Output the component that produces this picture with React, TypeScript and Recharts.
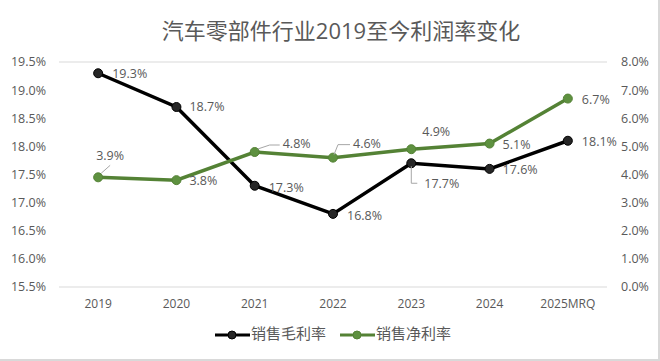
import { LineChart, Line, XAxis, YAxis, CartesianGrid } from 'recharts';

const years = ['2019', '2020', '2021', '2022', '2023', '2024', '2025MRQ'];
const grossMargin = [19.3, 18.7, 17.3, 16.8, 17.7, 17.6, 18.1];
const netMargin = [3.9, 3.8, 4.8, 4.6, 4.9, 5.1, 6.7];
const leftTicks = [15.5, 16, 16.5, 17, 17.5, 18, 18.5, 19, 19.5];
const rightTicks = [0, 1, 2, 3, 4, 5, 6, 7, 8];

const data = years.map((y, i) => ({ year: y, gross: grossMargin[i], net: netMargin[i] }));

const GRAY = '#595959';
const BLACK = '#000000';
const GREEN = '#548235';
const FONT = '"Open Sans", "Noto Sans CJK SC", sans-serif';

// label placement per point: dx, dy of text start, optional leader polyline
type LabelPos = { dx: number; dy: number; leader?: number[][] };

const grossLabels: LabelPos[] = [
  { dx: 14, dy: 1 },
  { dx: 13, dy: 1 },
  { dx: 14, dy: 3 },
  { dx: 14, dy: 3 },
  { dx: 13, dy: 21, leader: [[0, 3], [0, 20], [6, 20]] },
  { dx: 13, dy: 2 },
  { dx: 14, dy: 2 },
];

const netLabels: LabelPos[] = [
  { dx: -2, dy: -21, leader: [[3, -4], [12, -12]] },
  { dx: 13, dy: 2 },
  { dx: 28, dy: -7, leader: [[3, -3], [15, -7], [25, -7]] },
  { dx: 20, dy: -13, leader: [[1, -3], [5, -13], [17, -13]] },
  { dx: 11, dy: -17 },
  { dx: 13, dy: 2 },
  { dx: 14, dy: 2 },
];

function makeLabel(pos: LabelPos[]) {
  return (props: any) => {
    const { x, y, value, index } = props;
    const p = pos[index];
    return (
      <g key={`lbl-${index}`}>
        {p.leader && (
          <polyline
            points={p.leader.map(([a, b]) => `${x + a},${y + b}`).join(' ')}
            fill="none"
            stroke="#a6a6a6"
            strokeWidth={1}
          />
        )}
        <text
          x={x + p.dx}
          y={y + p.dy}
          dominantBaseline="middle"
          fill={GRAY}
          fontSize={12.5}
          fontFamily={FONT}
        >
          {value.toFixed(1)}%
        </text>
      </g>
    );
  };
}

const legendItems = [
  { name: '销售毛利率', color: BLACK, dot: '#262626' },
  { name: '销售净利率', color: GREEN, dot: '#5e9140' },
];

function ChartLegend() {
  return (
    <svg width={660} height={24} style={{ position: 'absolute', left: 0, top: 323 }}>
      {legendItems.map((it, i) => {
        const x0 = 215 + i * 125;
        return (
          <g key={it.name}>
            <line x1={x0} x2={x0 + 35} y1={12} y2={12} stroke={it.color} strokeWidth={3} />
            <circle cx={x0 + 17} cy={12} r={4} fill={it.dot} stroke={it.color} />
            <text x={x0 + 36} y={12} dominantBaseline="middle" fill={GRAY} fontSize={15} fontFamily={FONT}>
              {it.name}
            </text>
          </g>
        );
      })}
    </svg>
  );
}

export default function App() {
  document.body.style.margin = '0';
  return (
    <div
      style={{
        width: 660,
        height: 361,
        position: 'relative',
        background: '#fff',
        boxSizing: 'border-box',
        borderRight: '2px solid #d9d9d9',
        borderBottom: '2px solid #d9d9d9',
        fontFamily: FONT,
      }}
    >
      <div
        style={{
          position: 'absolute',
          top: 14,
          left: 0,
          width: 682,
          textAlign: 'center',
          fontSize: 22,
          lineHeight: '32px',
          color: GRAY,
          fontFamily: FONT,
        }}
      >
        汽车零部件行业2019至今利润率变化
      </div>
      <div style={{ position: 'absolute', left: 0, top: 0 }}>
        <LineChart
          width={660}
          height={361}
          data={data}
          margin={{ top: 62, right: 0, bottom: 0, left: 0 }}
        >
          <CartesianGrid vertical={false} stroke="#d9d9d9" />
          <XAxis
            dataKey="year"
            scale="band"
            axisLine={false}
            tickLine={false}
            tickSize={0}
            tickMargin={12}
            tick={{ fill: GRAY, fontSize: 12, fontFamily: FONT }}
            interval={0}
            height={74}
          />
          <YAxis
            yAxisId="left"
            domain={[15.5, 19.5]}
            ticks={leftTicks}
            interval={0}
            width={59}
            axisLine={false}
            tickLine={false}
            tickSize={0}
            tickMargin={13}
            tickFormatter={(v: number) => `${v.toFixed(1)}%`}
            tick={{ fill: GRAY, fontSize: 12.5, fontFamily: FONT }}
          />
          <YAxis
            yAxisId="right"
            orientation="right"
            domain={[0, 8]}
            ticks={rightTicks}
            interval={0}
            width={53}
            axisLine={false}
            tickLine={false}
            tickSize={0}
            tickMargin={14}
            tickFormatter={(v: number) => `${v.toFixed(1)}%`}
            tick={{ fill: GRAY, fontSize: 12.5, fontFamily: FONT }}
          />
          <Line
            yAxisId="left"
            dataKey="gross"
            stroke={BLACK}
            strokeWidth={3.5}
            dot={{ r: 4.5, fill: '#262626', stroke: BLACK, strokeWidth: 1 }}
            label={makeLabel(grossLabels)}
            isAnimationActive={false}
          />
          <Line
            yAxisId="right"
            dataKey="net"
            stroke={GREEN}
            strokeWidth={3.5}
            dot={{ r: 4.5, fill: '#5e9140', stroke: GREEN, strokeWidth: 1 }}
            label={makeLabel(netLabels)}
            isAnimationActive={false}
          />
        </LineChart>
      </div>
      <ChartLegend />
    </div>
  );
}
